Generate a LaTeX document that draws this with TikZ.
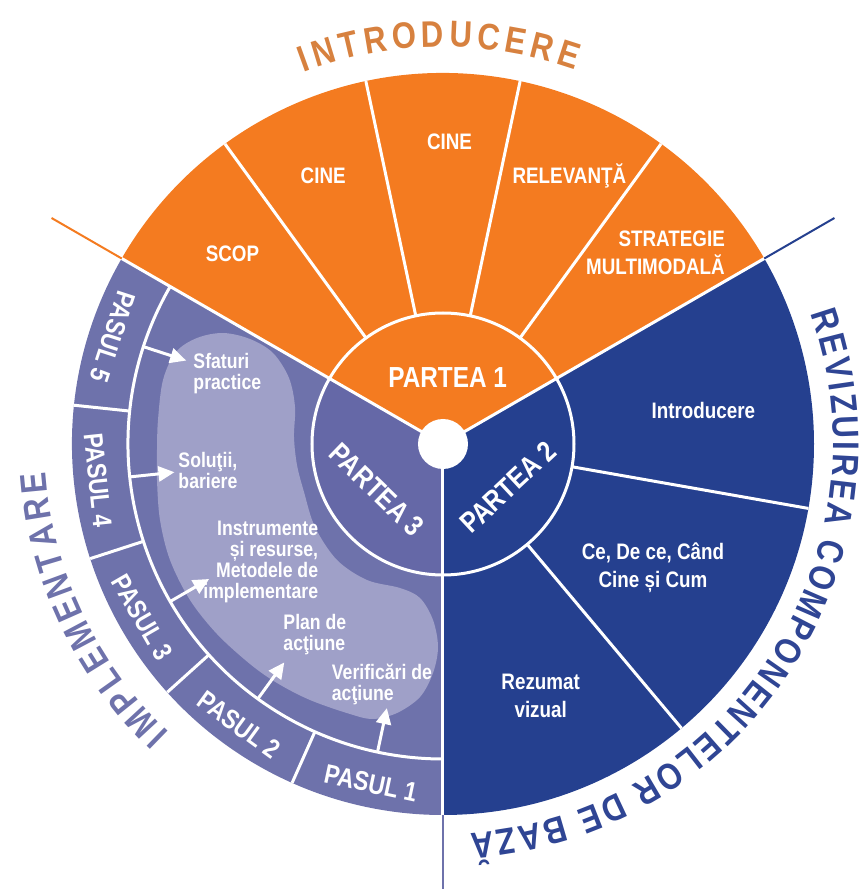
\documentclass[tikz,border=0pt]{standalone}
\usepackage{fontspec}
\setmainfont{Liberation Sans}[FakeStretch=0.84]
\usetikzlibrary{arrows.meta,decorations.text}

\definecolor{partorange}{HTML}{F47B20}
\definecolor{partblue}{HTML}{25408F}
\definecolor{partviolet}{HTML}{6568A7}
\definecolor{ringviolet}{HTML}{6E72AB}
\definecolor{blobviolet}{HTML}{9FA0C8}
\definecolor{titleorange}{HTML}{D7813F}
\definecolor{titleblue}{HTML}{2F4594}

\newcommand{\lblfont}{\fontsize{22.4}{28}\selectfont\bfseries}
\newcommand{\tipfont}{\fontsize{21}{21}\selectfont\bfseries}
\newcommand{\partfont}{\fontsize{29}{30}\selectfont\bfseries}
\newcommand{\stepfont}{\fontsize{27}{28}\selectfont\bfseries}
\newcommand{\arcfont}{\fontsize{37}{38}\selectfont\bfseries}

\begin{document}
\begin{tikzpicture}
  [x=1pt,y=1pt,every node/.style={text=white,inner sep=0pt}]
  \tikzstyle{sep} = [white,line width=3pt]
  \tikzstyle{slicetext} = [font=\lblfont,align=center]
  \tikzstyle{tiptext} = [font=\tipfont]
  \tikzstyle{steptext} = [font=\stepfont]
  \tikzstyle{parttext} = [font=\partfont]
  \tikzstyle{steparrow} = [white,line width=3pt,-{Triangle[length=16pt,width=15pt]}]
  \tikzstyle{reach} = [line width=2pt]
  \useasboundingbox (-443,-445) rectangle (421,444);

  % the three parts
  \fill[partorange] (0,0) -- (30:371) arc[start angle=30,end angle=150,radius=371] -- cycle;
  \fill[partblue] (0,0) -- (-90:371) arc[start angle=-90,end angle=30,radius=371] -- cycle;
  \fill[ringviolet] (0,0) -- (150:371) arc[start angle=150,end angle=270,radius=371] -- cycle;
  \fill[partviolet] (0,0) -- (150:131) arc[start angle=150,end angle=270,radius=131] -- cycle;
  \fill[blobviolet] plot[smooth cycle,tension=0.55] coordinates {
    (-286,-6) (-285,24) (-280,64) (-267,92) (-246,106) (-220,111) (-193,105)
    (-170,91) (-154,66) (-148,37) (-149,7) (-146,-21) (-139,-48) (-128,-83)
    (-106,-116) (-76,-136) (-43,-144) (-23,-154) (-10,-176) (-5,-203)
    (-10,-229) (-23,-253) (-46,-269) (-70,-275) (-93,-270) (-133,-256)
    (-166,-239) (-193,-220) (-226,-190) (-253,-156) (-273,-116) (-283,-76)
    (-286,-36)};

  % white separators
  \draw[sep] (0,0) circle[radius=131];
  \foreach \a in {30,150,270}
    \draw[sep] (\a:20) -- (\a:371);
  \foreach \a in {54,78,102,126,-10,-50}
    \draw[sep] (\a:131) -- (\a:371);
  \draw[sep] (150:315) arc[start angle=150,end angle=270,radius=315];
  \foreach \a in {174,198,222,246}
    \draw[sep] (\a:315) -- (\a:371);
  \fill[white] (0,0) circle[radius=25];

  % lines out of the wheel
  \draw[reach,partorange] (150:371) -- (150:452);
  \draw[reach,partblue] (30:371) -- (30:452);
  \draw[reach,ringviolet] (270:371) -- (270:452);

  % part 1
  \node[parttext,anchor=base] (p1) at (4.7,56.3) {PARTEA 1};
  \node[slicetext,anchor=base] (scop) at (-210.5,182.3) {SCOP};
  \node[slicetext,anchor=base] (cinea) at (-119.8,260.7) {CINE};
  \node[slicetext,anchor=base] (cineb) at (6.5,294) {CINE};
  \node[slicetext,anchor=base] (relev) at (126.4,260.7) {RELEVANŢĂ};
  \node[slicetext,align=right,anchor=east] (strat) at (282,191.1) {STRATEGIE\\MULTIMODALĂ};

  % part 2
  \node[parttext,rotate=43] (p2) at (65,-43) {PARTEA 2};
  \node[slicetext] (intro) at (260.3,34) {Introducere};
  \node[slicetext] (cece) at (210,-124) {Ce, De ce, Când\\Cine și Cum};
  \node[slicetext] (rezumat) at (97.7,-252) {Rezumat\\vizual};

  % part 3
  \node[parttext,rotate=-44] (p3) at (-66,-46) {PARTEA 3};
  \node[tiptext,align=left,anchor=west] (sfat) at (-249.7,70.5) {Sfaturi\\practice};
  \node[tiptext,align=left,anchor=west] (solu) at (-264.7,-26.5) {Soluţii,\\bariere};
  \node[tiptext,align=right,anchor=east] (instr) at (-124.7,-118.2) {Instrumente\\și resurse,\\Metodele de\\implementare};
  \node[tiptext,align=left,anchor=west] (plan) at (-159.7,-190.3) {Plan de\\acţiune};
  \node[tiptext,align=left,anchor=west] (verif) at (-111.3,-240) {Verificări de\\acţiune};

  \foreach \a/\n in {162/5,186/4,210/3,234/2,258/1} {
    \node[steptext,rotate=\a+90] (pasul\n) at (\a:347) {PASUL \n};
    \coordinate (from\n) at (\a:315);
    \coordinate (to\n) at (\a:270);
    \draw[steparrow] (from\n) -- (to\n);
  }

  % titles round the wheel
  \path[decorate,decoration={text along path,text color=titleorange,
    text={|\arcfont|INTRODUCERE},text align={fit to path}}]
    (110.5:397) arc[start angle=110.5,end angle=70.6,radius=397];
  \path[decorate,decoration={text along path,text color=titleblue,
    text={|\arcfont|REVIZUIREA COMPONENTELOR DE BAZĂ},text align={fit to path}}]
    (19.5:390) arc[start angle=19.5,end angle=-86,radius=390];
  \path[decorate,decoration={text along path,text color=ringviolet,
    text={|\arcfont|IMPLEMENTARE},text align={fit to path}}]
    (226.5:398) arc[start angle=226.5,end angle=184,radius=398];
\end{tikzpicture}
\end{document}
